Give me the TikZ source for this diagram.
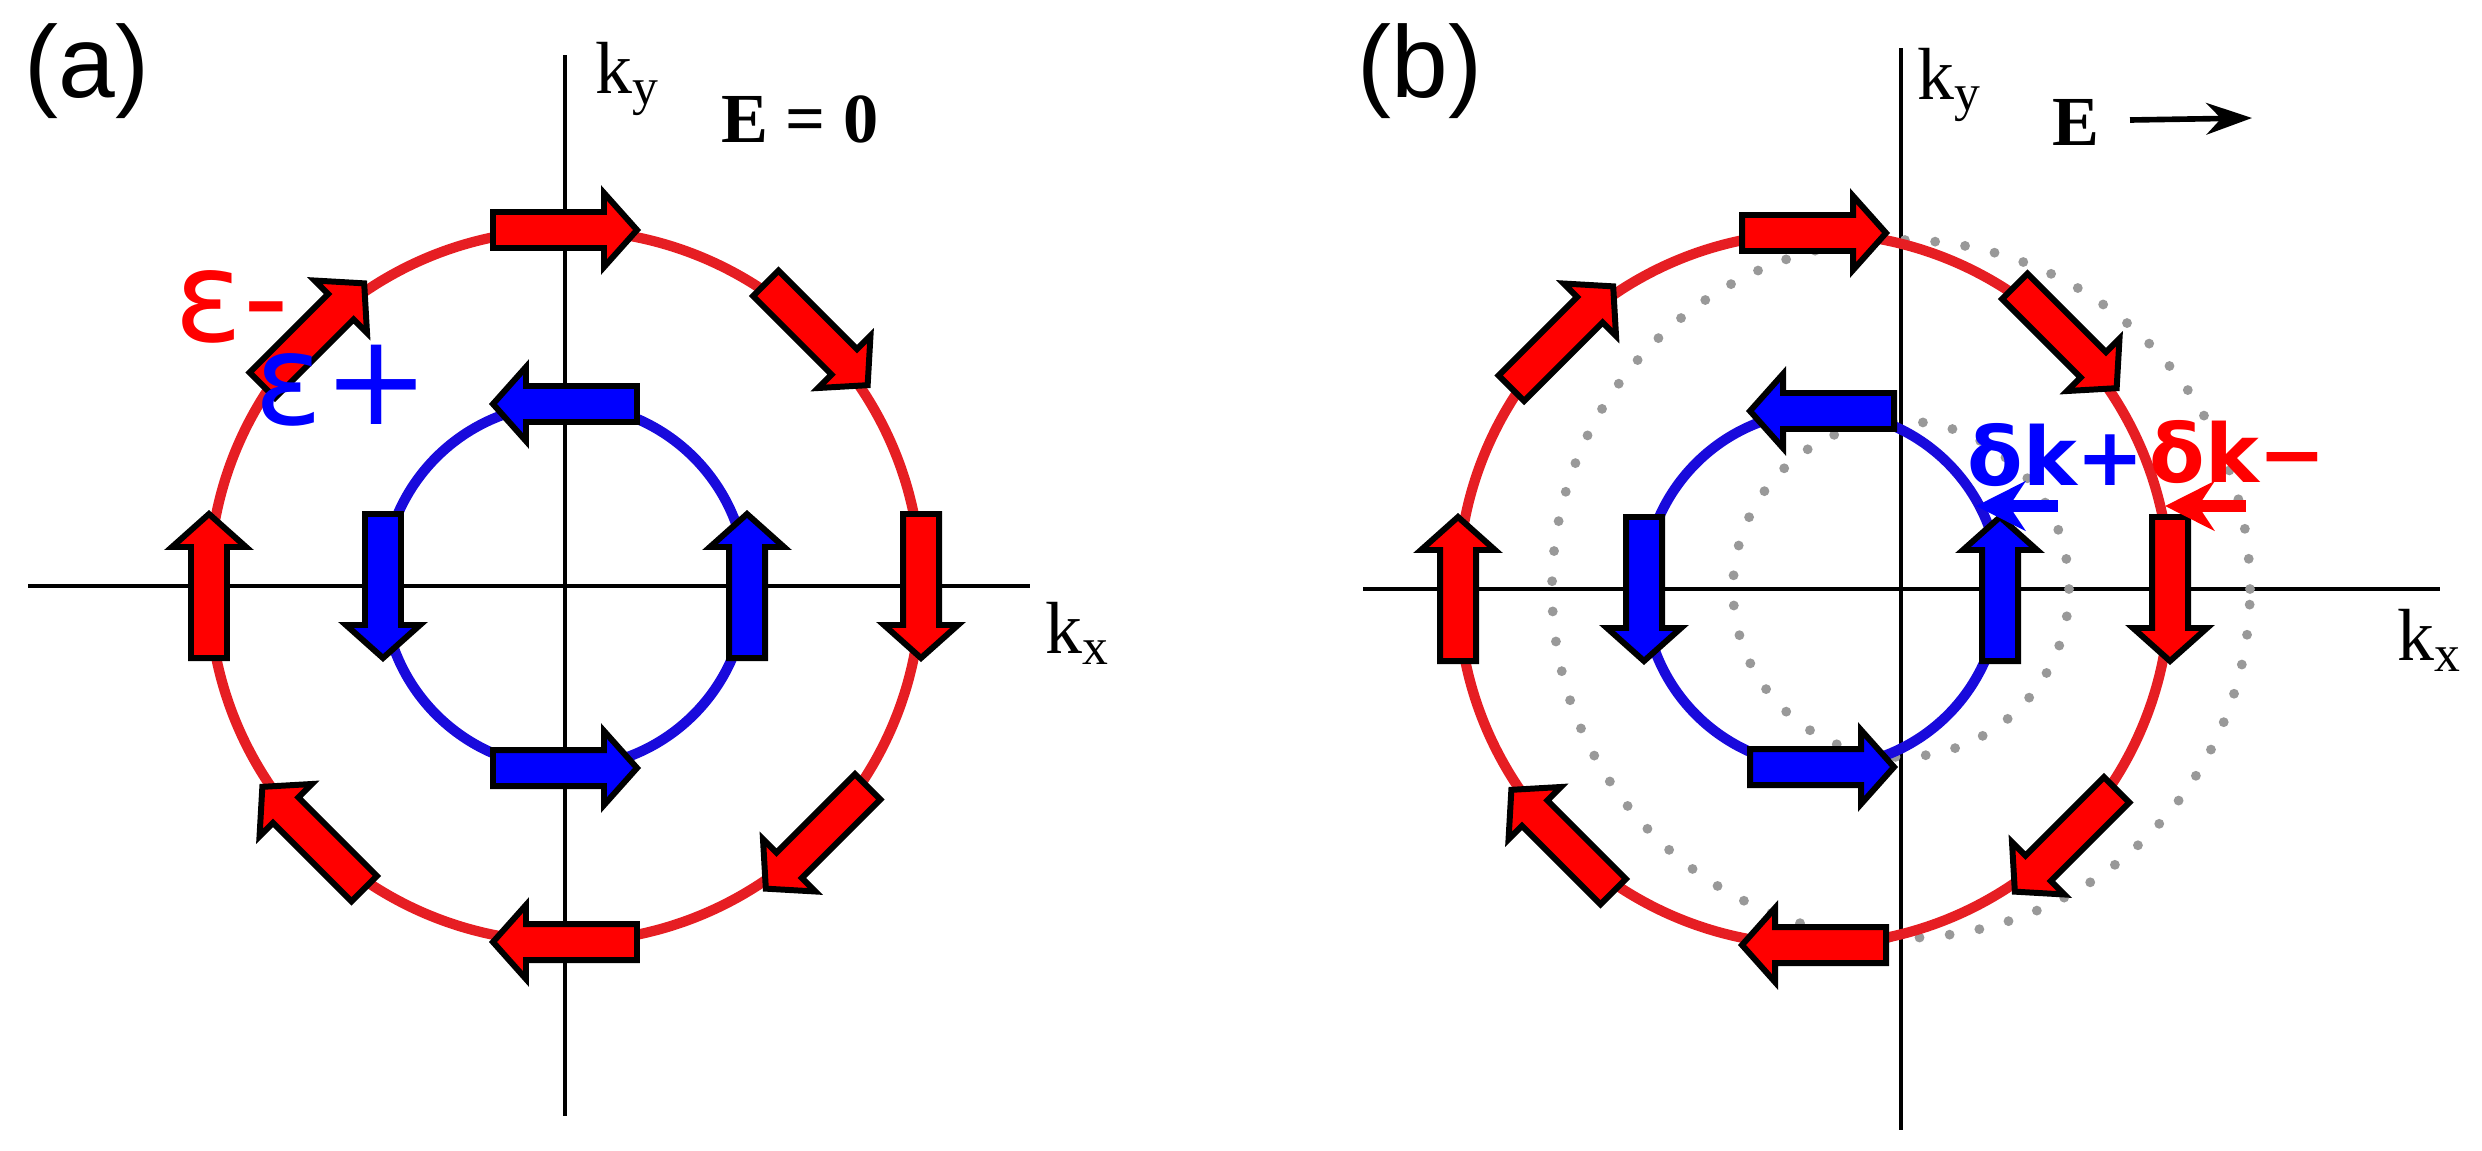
\documentclass[tikz,border=0pt]{standalone}
\usepackage{fontspec}
\setmainfont{Liberation Serif}
\newfontfamily\lsans{Liberation Sans}
\newfontfamily\dsans{DejaVu Sans}
\usetikzlibrary{arrows.meta}
\definecolor{cred}{RGB}{230,30,35}
\definecolor{fred}{RGB}{255,0,0}
\definecolor{cblue}{RGB}{25,10,220}
\definecolor{fblue}{RGB}{0,0,255}
\tikzset{axis/.style={line width=1.2pt},
 redc/.style={cred,line width=2.9pt},
 bluec/.style={cblue,line width=2.9pt},
 dotc/.style={gray!80,line width=2.8pt,line cap=round,dash pattern=on 0pt off 8.6pt},
 klab/.style={font=\fontsize{21}{21}\selectfont},
 plab/.style={font=\lsans\fontsize{29}{29}\selectfont},
 pics/barr/.style={code={\draw[fill=#1,line width=1.7pt,line join=miter] (-72,-18)--(39,-18)--(39,-37)--(72,0)--(39,37)--(39,18)--(-72,18)--cycle;}}}
\begin{document}
\begin{tikzpicture}[x=0.01cm,y=0.01cm]
\useasboundingbox (0,0) rectangle (2482,1150);
% panel a
\coordinate (A) at (565,564);
\draw[axis] (28,564) -- (1030,564);
\draw[axis] (565,1095) -- (565,34);
\draw[redc] (A) circle (356);
\draw[bluec] (A) circle (182);
\foreach \p in {90,45,0,-45,-90,-135,180,135}{\pgfmathsetmacro\d{\p-90}\pic[rotate=\d] at ([shift={(\p:356)}]A) {barr=fred};}
\foreach \p in {90,0,-90,180}{\pgfmathsetmacro\d{\p+90}\pic[rotate=\d] at ([shift={(\p:182)}]A) {barr=fblue};}
\node[plab] (la) at (87,1079) {(a)};
\node[klab] (kya) at (628,1071) {k\textsubscript{y}};
\node[klab] (kxa) at (1078,517) {k\textsubscript{x}};
\node[font=\bfseries\fontsize{20}{20}\selectfont] (E0) at (800,1031) {E = 0};
\node[text=fred,font=\dsans\fontsize{36}{36}\selectfont] (em) at (232,843) {ε-};
\node[text=fblue,font=\dsans\fontsize{36}{36}\selectfont] (ep) at (342,764) {ε+};
% panel b
\coordinate (B) at (1901,561);
\coordinate (BR) at (1814,561);
\coordinate (BB) at (1822,561);
\draw[axis] (1363,561) -- (2440,561);
\draw[axis] (1901,1102) -- (1901,20);
\draw[dotc] (B) circle (349);
\draw[dotc] (B) circle (168);
\draw[redc] (BR) circle (356);
\draw[bluec] (BB) circle (178);
\foreach \p in {90,45,0,-45,-90,-135,180,135}{\pgfmathsetmacro\d{\p-90}\pic[rotate=\d] at ([shift={(\p:356)}]BR) {barr=fred};}
\foreach \p in {90,0,-90,180}{\pgfmathsetmacro\d{\p+90}\pic[rotate=\d] at ([shift={(\p:178)}]BB) {barr=fblue};}
\node[plab] (lb) at (1420,1079) {(b)};
\node[klab] (kyb) at (1950,1065) {k\textsubscript{y}};
\node[klab] (kxb) at (2430,510) {k\textsubscript{x}};
\node[font=\bfseries\fontsize{20}{20}\selectfont] (Eb) at (2076,1028) {E};
\coordinate (e1) at (2130,1030); \coordinate (e2) at (2252,1032);
\draw[line width=1.6pt,-{Stealth[length=13pt,width=9pt]}] (e1) -- (e2);
\node[text=fblue,font=\dsans\bfseries\fontsize{23}{23}\selectfont] (dkp) at (2056,695) {δk+};
\node[text=fred,font=\dsans\bfseries\fontsize{23}{23}\selectfont] (dkm) at (2238,698) {δk−};
\coordinate (b1) at (2058,644); \coordinate (b2) at (1976,644);
\coordinate (r1) at (2246,644); \coordinate (r2) at (2165,644);
\draw[fblue,line width=3.5pt,-{Stealth[length=14pt,width=14pt]}] (b1) -- (b2);
\draw[fred,line width=3.5pt,-{Stealth[length=14pt,width=14pt]}] (r1) -- (r2);
\end{tikzpicture}
\end{document}
